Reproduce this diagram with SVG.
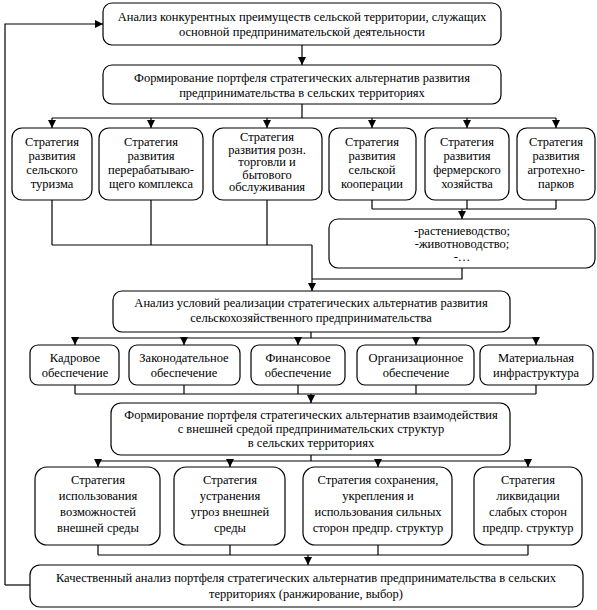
<svg xmlns="http://www.w3.org/2000/svg" width="597" height="610" viewBox="0 0 597 610">
<defs>
<marker id="ah" viewBox="0 0 8 8" refX="8" refY="4" markerWidth="8" markerHeight="8" markerUnits="userSpaceOnUse" orient="auto">
<path d="M0,0 L8,4 L0,8 Z" fill="#000"/>
</marker>
<style>
.b{fill:#fff;stroke:#000;stroke-width:1.2}
.c{fill:none;stroke:#000;stroke-width:1.2}
.a{marker-end:url(#ah)}
.t text{font-size:12.5px;fill:#000;text-anchor:middle}
</style>
</defs>
<rect width="597" height="610" fill="#fff"/>
<g id="connectors">
<path class="c a" d="M5,585 V24 H103"/>
<path class="c" d="M30,585 H5"/>
<path class="c a" d="M302,45 V65"/>
<path class="c" d="M302,104 V118 M52,118 H556"/>
<path class="c a" d="M52,118 V128"/>
<path class="c a" d="M151,118 V128"/>
<path class="c a" d="M267,118 V128"/>
<path class="c a" d="M372,118 V128"/>
<path class="c a" d="M467,118 V128"/>
<path class="c a" d="M556,118 V128"/>
<path class="c" d="M52,200 V245 M151,200 V245 M267,200 V245 M52,245 H312"/>
<path class="c a" d="M312,245 V291"/>
<path class="c" d="M372,200 V209 M467,200 V209 M556,200 V209 M372,209 H556"/>
<path class="c a" d="M462,209 V219"/>
<path class="c" d="M462,268 V279 H312"/>
<path class="c" d="M311,332 V338 M75,338 H536"/>
<path class="c a" d="M75,338 V345"/>
<path class="c a" d="M184,338 V345"/>
<path class="c a" d="M298,338 V345"/>
<path class="c a" d="M416,338 V345"/>
<path class="c a" d="M536,338 V345"/>
<path class="c" d="M75,385 V394 M184,385 V394 M298,385 V394 M416,385 V394 M536,385 V394 M75,394 H536"/>
<path class="c a" d="M311,394 V403"/>
<path class="c" d="M311,455 V461 M98,461 H528"/>
<path class="c a" d="M98,461 V467"/>
<path class="c a" d="M230,461 V467"/>
<path class="c a" d="M378,461 V467"/>
<path class="c a" d="M528,461 V467"/>
<path class="c" d="M98,545 V555 M230,545 V555 M378,545 V555 M528,545 V555 M98,555 H528"/>
<path class="c a" d="M308,555 V565"/>
</g>
<g class="t" font-family="'Liberation Serif', 'DejaVu Serif', 'Times New Roman', serif">
<g id="n_top">
<rect class="b" x="103" y="3" width="398" height="42" rx="9"/>
<text x="302" y="21">Анализ конкурентных преимуществ сельской территории, служащих</text>
<text x="302" y="36">основной предпринимательской деятельности</text>
</g>
<g id="n_portfolio">
<rect class="b" x="103" y="65" width="398" height="39" rx="9"/>
<text x="302" y="82">Формирование портфеля стратегических альтернатив развития</text>
<text x="302" y="97">предпринимательства в сельских территориях</text>
</g>
<g id="s1">
<rect class="b" x="12" y="128" width="80" height="72" rx="10"/>
<text x="52" y="146">Стратегия</text><text x="52" y="160">развития</text><text x="52" y="174">сельского</text><text x="52" y="188">туризма</text>
</g>
<g id="s2">
<rect class="b" x="99" y="128" width="104" height="72" rx="10"/>
<text x="151" y="146">Стратегия</text><text x="151" y="160">развития</text><text x="151" y="174">перерабатываю-</text><text x="151" y="188">щего комплекса</text>
</g>
<g id="s3">
<rect class="b" x="213" y="128" width="109" height="72" rx="10"/>
<text x="267" y="141">Стратегия</text><text x="267" y="153.5">развития розн.</text><text x="267" y="166">торговли и</text><text x="267" y="178.5">бытового</text><text x="267" y="191">обслуживания</text>
</g>
<g id="s4">
<rect class="b" x="329" y="128" width="87" height="72" rx="10"/>
<text x="372" y="146">Стратегия</text><text x="372" y="160">развития</text><text x="372" y="174">сельской</text><text x="372" y="188">кооперации</text>
</g>
<g id="s5">
<rect class="b" x="425" y="128" width="84" height="72" rx="10"/>
<text x="467" y="146">Стратегия</text><text x="467" y="160">развития</text><text x="467" y="174">фермерского</text><text x="467" y="188">хозяйства</text>
</g>
<g id="s6">
<rect class="b" x="517" y="128" width="78" height="72" rx="10"/>
<text x="556" y="146">Стратегия</text><text x="556" y="160">развития</text><text x="556" y="174">агротехно-</text><text x="556" y="188">парков</text>
</g>
<g id="n_branches">
<rect class="b" x="329" y="219" width="266" height="49" rx="9"/>
<text x="462" y="235">-растениеводство;</text>
<text x="462" y="248">-животноводство;</text>
<text x="462" y="261">-…</text>
</g>
<g id="n_conditions">
<rect class="b" x="113" y="291" width="397" height="41" rx="9"/>
<text x="311" y="307">Анализ условий реализации стратегических альтернатив развития</text>
<text x="311" y="322">сельскохозяйственного предпринимательства</text>
</g>
<g id="c1">
<rect class="b" x="30" y="345" width="89" height="40" rx="8"/>
<text x="75" y="362">Кадровое</text><text x="75" y="377">обеспечение</text>
</g>
<g id="c2">
<rect class="b" x="129" y="345" width="111" height="40" rx="8"/>
<text x="184" y="362">Законодательное</text><text x="184" y="377">обеспечение</text>
</g>
<g id="c3">
<rect class="b" x="251" y="345" width="94" height="40" rx="8"/>
<text x="298" y="362">Финансовое</text><text x="298" y="377">обеспечение</text>
</g>
<g id="c4">
<rect class="b" x="357" y="345" width="117" height="40" rx="8"/>
<text x="416" y="362">Организационное</text><text x="416" y="377">обеспечение</text>
</g>
<g id="c5">
<rect class="b" x="480" y="345" width="113" height="40" rx="8"/>
<text x="536" y="362">Материальная</text><text x="536" y="377">инфраструктура</text>
</g>
<g id="n_interaction">
<rect class="b" x="111" y="403" width="399" height="52" rx="10"/>
<text x="311" y="419">Формирование портфеля стратегических альтернатив взаимодействия</text>
<text x="311" y="433">с внешней средой предпринимательских структур</text>
<text x="311" y="447">в сельских территориях</text>
</g>
<g id="t1">
<rect class="b" x="35" y="467" width="125" height="78" rx="12"/>
<text x="98" y="484">Стратегия</text><text x="98" y="500">использования</text><text x="98" y="516">возможностей</text><text x="98" y="532">внешней среды</text>
</g>
<g id="t2">
<rect class="b" x="174" y="467" width="111" height="78" rx="12"/>
<text x="230" y="484">Стратегия</text><text x="230" y="500">устранения</text><text x="230" y="516">угроз внешней</text><text x="230" y="532">среды</text>
</g>
<g id="t3">
<rect class="b" x="303" y="467" width="149" height="78" rx="12"/>
<text x="378" y="484">Стратегия сохранения,</text><text x="378" y="500">укрепления и</text><text x="378" y="516">использования сильных</text><text x="378" y="532">сторон предпр. структур</text>
</g>
<g id="t4">
<rect class="b" x="474" y="467" width="108" height="78" rx="12"/>
<text x="528" y="484">Стратегия</text><text x="528" y="500">ликвидации</text><text x="528" y="516">слабых сторон</text><text x="528" y="532">предпр. структур</text>
</g>
<g id="n_final">
<rect class="b" x="30" y="565" width="553" height="42" rx="10"/>
<text x="306" y="582">Качественный анализ портфеля стратегических альтернатив предпринимательства в сельских</text>
<text x="306" y="598">территориях (ранжирование, выбор)</text>
</g>
</g>
</svg>
